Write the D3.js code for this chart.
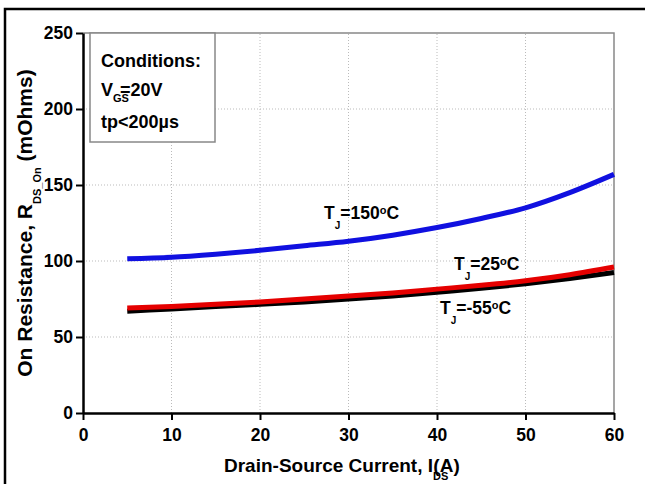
<!DOCTYPE html>
<html>
<head>
<meta charset="utf-8">
<script src="https://cdn.jsdelivr.net/npm/d3@7"></script>
<style>
  body { margin: 0; background: #fff; }
  text { font-family: "Liberation Sans", Arial, sans-serif; font-weight: bold; fill: #000; }
</style>
</head>
<body>
<div id="chart"></div>
<script>
// Drain-source current (A)
const current = [5, 10, 15, 20, 25, 30, 35, 40, 45, 50, 55, 60];
// On resistance (mOhms) per junction temperature
const rTj150 = [101.5, 102.5, 104.5, 107, 110, 113, 117, 122, 128, 135, 145, 157];
const rTj25 = [69, 70, 71.5, 73, 75, 77, 79, 81.5, 84, 87, 91, 96];
const rTjMinus55 = [67, 68.5, 70, 71.5, 73, 75, 77, 79.5, 82, 85, 88.5, 92.5];

const xTicks = [0, 10, 20, 30, 40, 50, 60];
const yTicks = [0, 50, 100, 150, 200, 250];

const width = 645, height = 484;
const margin = { left: 83, right: 31, top: 33, bottom: 71 };

const svg = d3.select('#chart')
    .append('svg')
    .attr('width', width)
    .attr('height', height);

// Outer frame (top and left edges of the cropped figure)
svg.append('path')
    .attr('d', `M5,${height} L5,9 L${width},9`)
    .attr('fill', 'none')
    .attr('stroke', '#000')
    .attr('stroke-width', 2.5);

const x = d3.scaleLinear().domain([0, 60]).range([margin.left, width - margin.right]);
const y = d3.scaleLinear().domain([0, 250]).range([height - margin.bottom, margin.top]);

// Grid lines
svg.append('g')
    .selectAll('line')
    .data(xTicks.slice(1, -1))
    .enter().append('line')
    .attr('x1', d => x(d)).attr('x2', d => x(d))
    .attr('y1', y(0)).attr('y2', y(250))
    .attr('stroke', '#bbb')
    .attr('stroke-width', 1)
    .attr('stroke-dasharray', '1,2');

svg.append('g')
    .selectAll('line')
    .data(yTicks.slice(1, -1))
    .enter().append('line')
    .attr('x1', x(0)).attr('x2', x(60))
    .attr('y1', d => y(d)).attr('y2', d => y(d))
    .attr('stroke', '#bbb')
    .attr('stroke-width', 1)
    .attr('stroke-dasharray', '1,2');

// Plot frame (top and right)
svg.append('path')
    .attr('d', `M${x(0)},${y(250)} L${x(60)},${y(250)} L${x(60)},${y(0)}`)
    .attr('fill', 'none')
    .attr('stroke', '#888')
    .attr('stroke-width', 1.5);

// Axes
const xAxis = svg.append('g')
    .attr('transform', `translate(0,${y(0)})`)
    .call(d3.axisBottom(x).tickValues(xTicks).tickSize(7).tickSizeOuter(0).tickPadding(9));

const yAxis = svg.append('g')
    .attr('transform', `translate(${x(0)},0)`)
    .call(d3.axisLeft(y).tickValues(yTicks).tickSize(7).tickSizeOuter(0).tickPadding(3));

[xAxis, yAxis].forEach(a => {
    a.select('.domain').attr('stroke', '#000').attr('stroke-width', 2.5);
    a.selectAll('.tick line').attr('stroke', '#000').attr('stroke-width', 2);
    a.selectAll('.tick text')
        .style('font-family', '"Liberation Sans", Arial, sans-serif')
        .style('font-weight', 'bold')
        .style('font-size', '17.5px')
        .attr('fill', '#000');
});

// Curves
const line = d3.line()
    .x((d, i) => x(current[i]))
    .y(d => y(d))
    .curve(d3.curveMonotoneX);

const series = [
    { values: rTjMinus55, color: '#000' },
    { values: rTj25, color: '#e50000' },
    { values: rTj150, color: '#1010e0' }
];

svg.append('g')
    .selectAll('path')
    .data(series)
    .enter().append('path')
    .attr('d', d => line(d.values))
    .attr('fill', 'none')
    .attr('stroke', d => d.color)
    .attr('stroke-width', 5)
    .attr('stroke-linecap', 'butt');

// Curve labels
function tjLabel(px, py, temp) {
    const t = svg.append('text')
        .attr('x', px)
        .attr('y', py)
        .style('font-size', '17.5px');
    t.append('tspan').text('T');
    t.append('tspan').attr('dy', 10).style('font-size', '10px').text('J');
    t.append('tspan').attr('dy', -10).text('=' + temp);
    t.append('tspan').attr('dy', -5).style('font-size', '11px').text('o');
    t.append('tspan').attr('dy', 5).text('C');
}
tjLabel(324, 219, '150');
tjLabel(454, 270, '25');
tjLabel(440, 314, '-55');

// Conditions box
svg.append('rect')
    .attr('x', 90)
    .attr('y', y(250))
    .attr('width', 125)
    .attr('height', 109)
    .attr('fill', '#fff')
    .attr('stroke', '#888')
    .attr('stroke-width', 1.5);

svg.append('text')
    .attr('x', 101).attr('y', 67)
    .style('font-size', '18px')
    .text('Conditions:');

const vgs = svg.append('text')
    .attr('x', 101).attr('y', 96)
    .style('font-size', '18px');
vgs.append('tspan').text('V');
vgs.append('tspan').attr('dy', 6).style('font-size', '11px').text('GS');
vgs.append('tspan').attr('dy', -6).attr('dx', -9).text('=20V');

svg.append('text')
    .attr('x', 101).attr('y', 128)
    .style('font-size', '18px')
    .text('tp<200\u00b5s');

// X axis label
const xl = svg.append('text')
    .attr('x', 224)
    .attr('y', 472)
    .style('font-size', '19px');
xl.append('tspan').text('Drain-Source Current, I');
xl.append('tspan').attr('dy', 8).style('font-size', '11px').text('DS');
xl.append('tspan').attr('dy', -8).attr('dx', -15).text('(A)');

// Y axis label
const yl = svg.append('text')
    .attr('transform', `translate(32,${y(125)}) rotate(-90)`)
    .attr('text-anchor', 'middle')
    .style('font-size', '21px');
yl.append('tspan').text('On Resistance, R');
yl.append('tspan').attr('dy', 9).style('font-size', '11px').text('DS_On');
yl.append('tspan').attr('dy', -9).text(' (mOhms)');
</script>
</body>
</html>
